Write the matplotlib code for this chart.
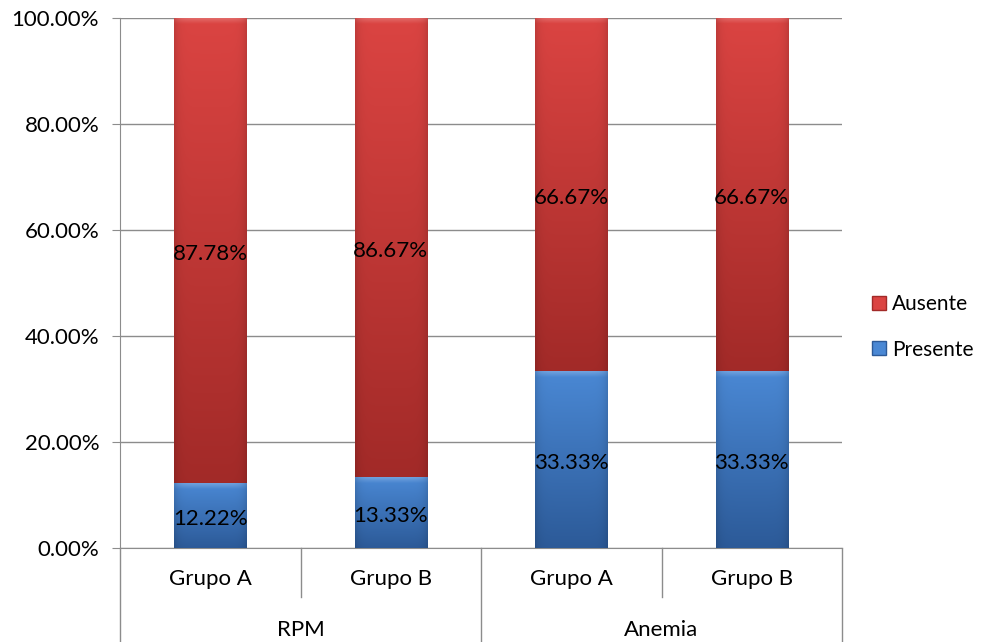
import matplotlib
matplotlib.use("Agg")
import matplotlib.pyplot as plt
import numpy as np
from matplotlib.patches import Patch
from matplotlib.transforms import blended_transform_factory, offset_copy

plt.rcParams['font.family'] = ['Lato', 'DejaVu Sans']

grupos = ['Grupo A', 'Grupo B', 'Grupo A', 'Grupo B']
categorias = ['RPM', 'Anemia']
presente = [12.22, 13.33, 33.33, 33.33]
ausente = [87.78, 86.67, 66.67, 66.67]

red_top, red_bot = np.array([219, 68, 66]) / 255, np.array([162, 42, 40]) / 255
blue_top, blue_bot = np.array([74, 136, 212]) / 255, np.array([44, 90, 152]) / 255

PX_PER_UNIT = 530  # axes height in pixels


def shade(ax, patch, top, bot):
    # vertical light-to-dark fade with darker side edges and a bevelled top
    x0, y0 = patch.get_x(), patch.get_y()
    w, h = patch.get_width(), patch.get_height()
    ny, nx = 300, 72
    t = np.linspace(0, 1, ny)[:, None]          # 0 at top, 1 at bottom
    s = np.linspace(-1, 1, nx)[None, :]
    base = top[None, None, :] * (1 - t[..., None]) + bot[None, None, :] * t[..., None]
    edge = 1 - 0.12 * np.abs(s) ** 8
    img = base * edge[..., None]
    depth = t * h * PX_PER_UNIT
    hl = np.clip(1 - depth / 6, 0, 1) * (1 - 0.6 * np.abs(s) ** 6)
    img = img + (1 - img) * 0.22 * hl[..., None]
    img = np.clip(img, 0, 1)
    im = ax.imshow(img, extent=[x0, x0 + w, y0, y0 + h], origin='upper',
                   aspect='auto', interpolation='bilinear', zorder=3)
    im.set_clip_path(patch)


fig = plt.figure(figsize=(9.93, 6.42), dpi=100)
ax = fig.add_axes([120 / 993, 94 / 642, 722 / 993, 530 / 642])

x = np.arange(len(grupos))
b1 = ax.bar(x, np.array(presente) / 100, width=0.4, color=blue_top, zorder=2)
b2 = ax.bar(x, np.array(ausente) / 100, width=0.4, bottom=np.array(presente) / 100,
            color=red_top, zorder=2)
for p in b1:
    shade(ax, p, blue_top, blue_bot)
for p in b2:
    shade(ax, p, red_top, red_bot)

fs = 16
lbl_tr = offset_copy(ax.transData, fig=fig, y=-3, units='dots')
for i in range(len(grupos)):
    ax.text(x[i], presente[i] / 200, f'{presente[i]:.2f}%', ha='center', va='center',
            fontsize=fs, color='black', zorder=5, transform=lbl_tr)
    ax.text(x[i], (presente[i] + ausente[i] / 2) / 100, f'{ausente[i]:.2f}%',
            ha='center', va='center', fontsize=fs, color='black', zorder=5,
            transform=lbl_tr)

ax.set_xlim(-0.5, len(grupos) - 0.5)
ax.set_ylim(0, 1)
ax.set_yticks(np.arange(0, 1.01, 0.2))
ax.set_yticklabels([f'{v * 100:.2f}%' for v in np.arange(0, 1.01, 0.2)], fontsize=fs)
ax.yaxis.grid(True, color='#8c8c8c', linewidth=1)
ax.set_axisbelow(True)
ax.tick_params(axis='y', length=6, color='#8c8c8c', pad=9)
ax.set_xticks(x)
ax.set_xticklabels(grupos, fontsize=fs)
ax.tick_params(axis='x', length=0, pad=15)
for side in ['top', 'right']:
    ax.spines[side].set_visible(False)
for side in ['left', 'bottom']:
    ax.spines[side].set_color('#8c8c8c')

# two-level category axis
tr = blended_transform_factory(ax.transData, ax.transAxes)
for xs in [-0.5, 1.5, 3.5]:
    ax.plot([xs, xs], [0, -0.18], transform=tr, color='#8c8c8c', lw=1, clip_on=False)
for xs in [0.5, 2.5]:
    ax.plot([xs, xs], [0, -0.093], transform=tr, color='#8c8c8c', lw=1, clip_on=False)
for j, cat in enumerate(categorias):
    ax.text(2 * j + 0.5, -0.155, cat, transform=tr, ha='center', va='center',
            fontsize=fs, color='black')

handles = [Patch(facecolor=red_top, edgecolor=red_bot, label='Ausente'),
           Patch(facecolor=blue_top, edgecolor=blue_bot, label='Presente')]
fig.legend(handles=handles, loc='center left', bbox_to_anchor=(872 / 993, 1 - 327 / 642),
           frameon=False, fontsize=15, handlelength=0.65, handleheight=0.65,
           handletextpad=0.3, labelspacing=1.2, borderpad=0, borderaxespad=0)

fig.savefig('out.png', dpi=100)
